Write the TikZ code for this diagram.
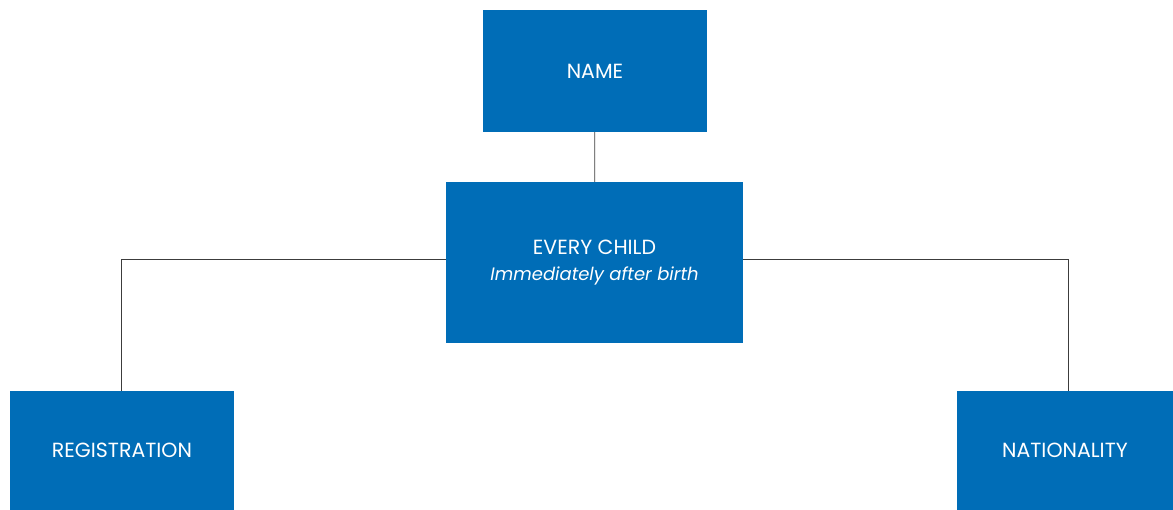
\documentclass[tikz,border=0pt]{standalone}
\usepackage{fontspec}
\setmainfont{Poppins}
\usepackage{tikz}
\usetikzlibrary{positioning}
\definecolor{rtblue}{RGB}{0,109,183}
\definecolor{rtline}{RGB}{60,60,60}
\tikzstyle{rightbox} = [rectangle, minimum width=224pt, minimum height=122pt, text centered, fill=rtblue, text=white, inner sep=0pt, font=\fontsize{20.5}{26}\selectfont]
\tikzstyle{link} = [draw=rtline, line width=0.8pt]

\begin{document}
\begin{tikzpicture}[x=1pt, y=-1pt]
\useasboundingbox (0,0) rectangle (1173,510);
% Boxes
\node (name) [rightbox] at (595,71) {NAME};
\node (child) [rightbox, align=center, minimum width=297pt, minimum height=161pt] at (594.5,262.5) {EVERY CHILD\\\fontsize{18}{26}\selectfont\itshape Immediately after birth};
\node (reg) [rightbox, minimum height=119pt] at (122,450.5) {REGISTRATION};
\node (nat) [rightbox, minimum width=216pt, minimum height=119pt] at (1065,450.5) {NATIONALITY};

% Links
\draw[link] (name) -- (child);
\draw[link] ([yshift=3.5pt]child.west) -| ([xshift=-1pt]reg.north);
\draw[link] ([yshift=3.5pt]child.east) -| ([xshift=3pt]nat.north);
\end{tikzpicture}
\end{document}
